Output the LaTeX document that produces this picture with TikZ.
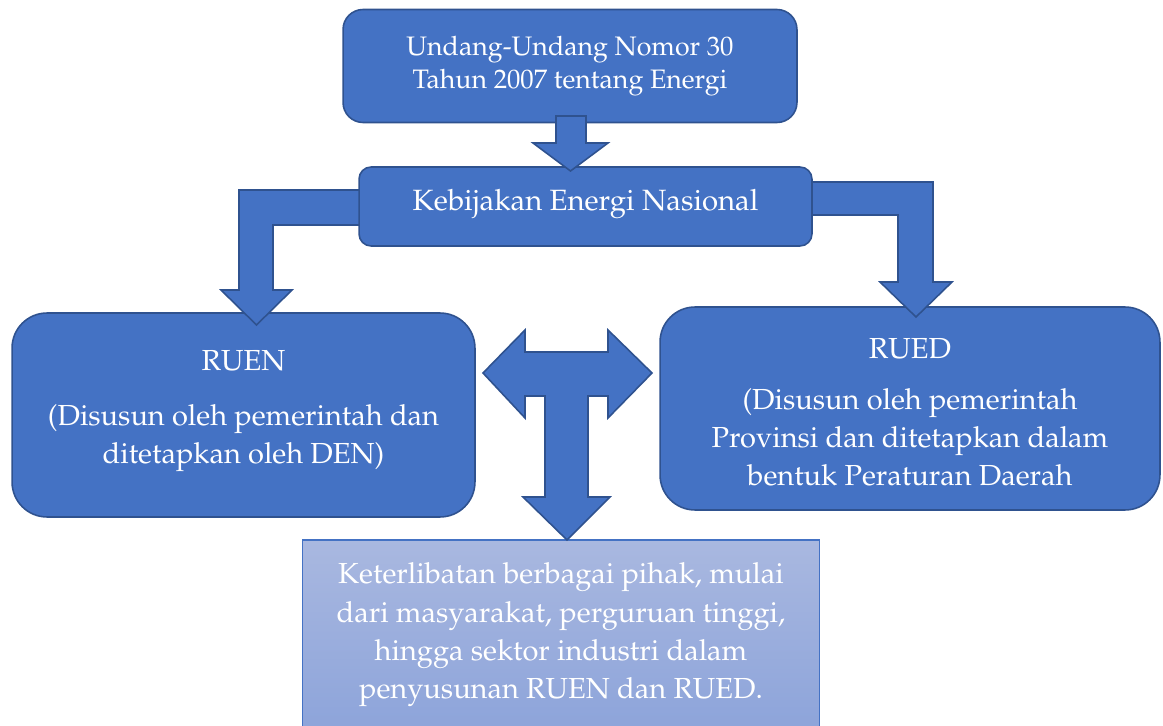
\documentclass[tikz,border=0pt]{standalone}
\usepackage[T1]{fontenc}
\usepackage{mathpazo}
\usepackage{tikz}
\usetikzlibrary{shapes.geometric}

\definecolor{boxblue}{HTML}{4472C4}
\definecolor{boxline}{HTML}{2F528F}
\definecolor{lighttop}{HTML}{A9B8E0}
\definecolor{lightbot}{HTML}{8DA4DA}

\tikzset{
    blok/.style={draw=boxline, fill=boxblue, line width=0.9pt, text=white, align=center,
        font=\fontsize{16.5}{21.8}\selectfont},
    panah/.style={draw=boxline, fill=boxblue, line width=0.9pt, line join=miter}
}

\begin{document}
\begin{tikzpicture}[x=0.02cm, y=-0.02cm]
    \useasboundingbox (0,0) rectangle (1163,726);
    % kotak bawah
    \node[blok, draw=boxblue, line width=0.6pt, top color=lighttop, bottom color=lightbot,
        minimum width=10.36cm, minimum height=3.8cm] (libat) at (561,635)
        {Keterlibatan berbagai pihak, mulai\\
        dari masyarakat, perguruan tinggi,\\
        hingga sektor industri dalam\\
        penyusunan RUEN dan RUED.};
    \node[blok, rounded corners=0.7cm, minimum width=9.26cm, minimum height=4.08cm] (ruen) at (243.5,415)
        {RUEN\\[9pt]
        (Disusun oleh pemerintah dan\\
        ditetapkan oleh DEN)\rule[-9pt]{0pt}{9pt}};
    \node[blok, rounded corners=0.7cm, minimum width=10cm, minimum height=4.06cm] (rued) at (910,408.5)
        {\rule{0pt}{16pt}RUED\\[7pt]
        (Disusun oleh pemerintah\\
        Provinsi dan ditetapkan dalam\\
        bentuk Peraturan Daerah};
    \node[blok, rounded corners=0.4cm, minimum width=9.08cm, minimum height=2.26cm,
        font=\fontsize{15.2}{19}\selectfont] (uu) at (570,66)
        {Undang-Undang Nomor 30\\
        Tahun 2007 tentang Energi};
    % panah belok
    \draw[panah] (365,190) -- (239,190) -- (239,290) -- (221,290) -- (256.5,325) -- (292,290)
        -- (273,290) -- (273,225) -- (365,225) -- cycle;
    \draw[panah] (805,182) -- (933,182) -- (933,282) -- (952,282) -- (916,317) -- (880,282)
        -- (898,282) -- (898,215) -- (805,215) -- cycle;
    \node[blok, rounded corners=0.24cm, minimum width=9.06cm, minimum height=1.58cm,
        font=\fontsize{16.7}{20}\selectfont] (ken) at (585.5,206.5)
        {Kebijakan Energi Nasional\rule[-7pt]{0pt}{7pt}};
    \draw[panah] (556,116) -- (586,116) -- (586,143) -- (608,143) -- (570.5,171) -- (533,143)
        -- (556,143) -- cycle;
    % panah T
    \draw[panah] (483,373) -- (525,330) -- (525,352) -- (608,352) -- (608,330) -- (652,373)
        -- (608,418) -- (608,396) -- (588,396) -- (588,497) -- (610,497) -- (567,540)
        -- (523,497) -- (545,497) -- (545,396) -- (525,396) -- (525,418) -- cycle;
\end{tikzpicture}
\end{document}
